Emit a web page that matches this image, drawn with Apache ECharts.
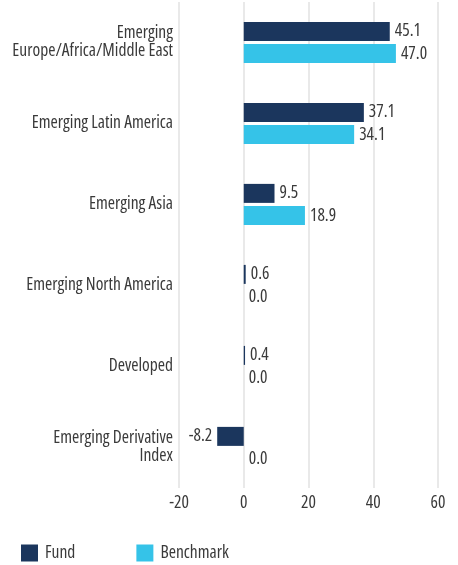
<!DOCTYPE html>
<html>
<head>
<meta charset="utf-8">
<script src="https://cdn.jsdelivr.net/npm/echarts@6/dist/echarts.min.js"></script>
<style>
  html, body { margin: 0; padding: 0; background: #fff; }
  #chart { width: 458px; height: 565px; }
</style>
</head>
<body>
<div id="chart"></div>
<script>
// categories, top to bottom
const categories = [
    'Emerging\nEurope/Africa/Middle East',
    'Emerging Latin America',
    'Emerging Asia',
    'Emerging North America',
    'Developed',
    'Emerging Derivative\nIndex'
];
const fundValues = [45.1, 37.1, 9.5, 0.6, 0.4, -8.2];
const benchmarkValues = [47.0, 34.1, 18.9, 0.0, 0.0, 0.0];
const xTicks = [-20, 0, 20, 40, 60];

// condensed face: the stretch keyword goes into the canvas font string
const FONT = '"Open Sans", sans-serif';
const STRETCH = 'condensed';
const FONT_SIZE = 17.5;
const TEXT_COLOR = '#3a3a3a';

function textStyle(extra) {
    return Object.assign({
        fontFamily: FONT,
        fontWeight: STRETCH,
        fontSize: FONT_SIZE,
        color: TEXT_COLOR
    }, extra || {});
}

const chart = echarts.init(document.getElementById('chart'));

// negative values get their label on the left
function withLabels(values) {
    return values.map(v => v < 0 ? { value: v, label: { position: 'left' } } : v);
}

function barLabel() {
    return textStyle({
        show: true,
        position: 'right',
        distance: 5,
        formatter: p => p.value.toFixed(1)
    });
}

chart.setOption({
    animation: false,
    grid: { left: 179, right: 20, top: 2, bottom: 77, outerBoundsMode: 'none' },
    legend: {
        left: 16,
        top: 539,
        itemWidth: 17,
        itemHeight: 17,
        itemGap: 61,
        icon: 'rect',
        textStyle: textStyle({ padding: [0, 0, 0, 2] }),
        data: ['Fund', 'Benchmark']
    },
    xAxis: {
        type: 'value',
        min: xTicks[0],
        max: xTicks[xTicks.length - 1],
        interval: 20,
        axisLine: { show: false },
        axisTick: { show: false },
        axisLabel: textStyle({ margin: 6 }),
        splitLine: { show: true, lineStyle: { color: '#e9e9e9', width: 2 } }
    },
    yAxis: {
        type: 'category',
        data: categories,
        inverse: true,
        axisLine: { show: false, onZero: false },
        axisTick: { show: false },
        axisLabel: textStyle({ margin: 6, align: 'right', lineHeight: 18, padding: [5, 0, 0, 0] })
    },
    series: [
        {
            name: 'Fund',
            type: 'bar',
            data: withLabels(fundValues),
            itemStyle: { color: '#1b365d' },
            barWidth: 19,
            barGap: '17%',
            label: barLabel()
        },
        {
            name: 'Benchmark',
            type: 'bar',
            data: benchmarkValues,
            itemStyle: { color: '#35c3e8' },
            barWidth: 19,
            label: barLabel()
        }
    ]
});
</script>
</body>
</html>
